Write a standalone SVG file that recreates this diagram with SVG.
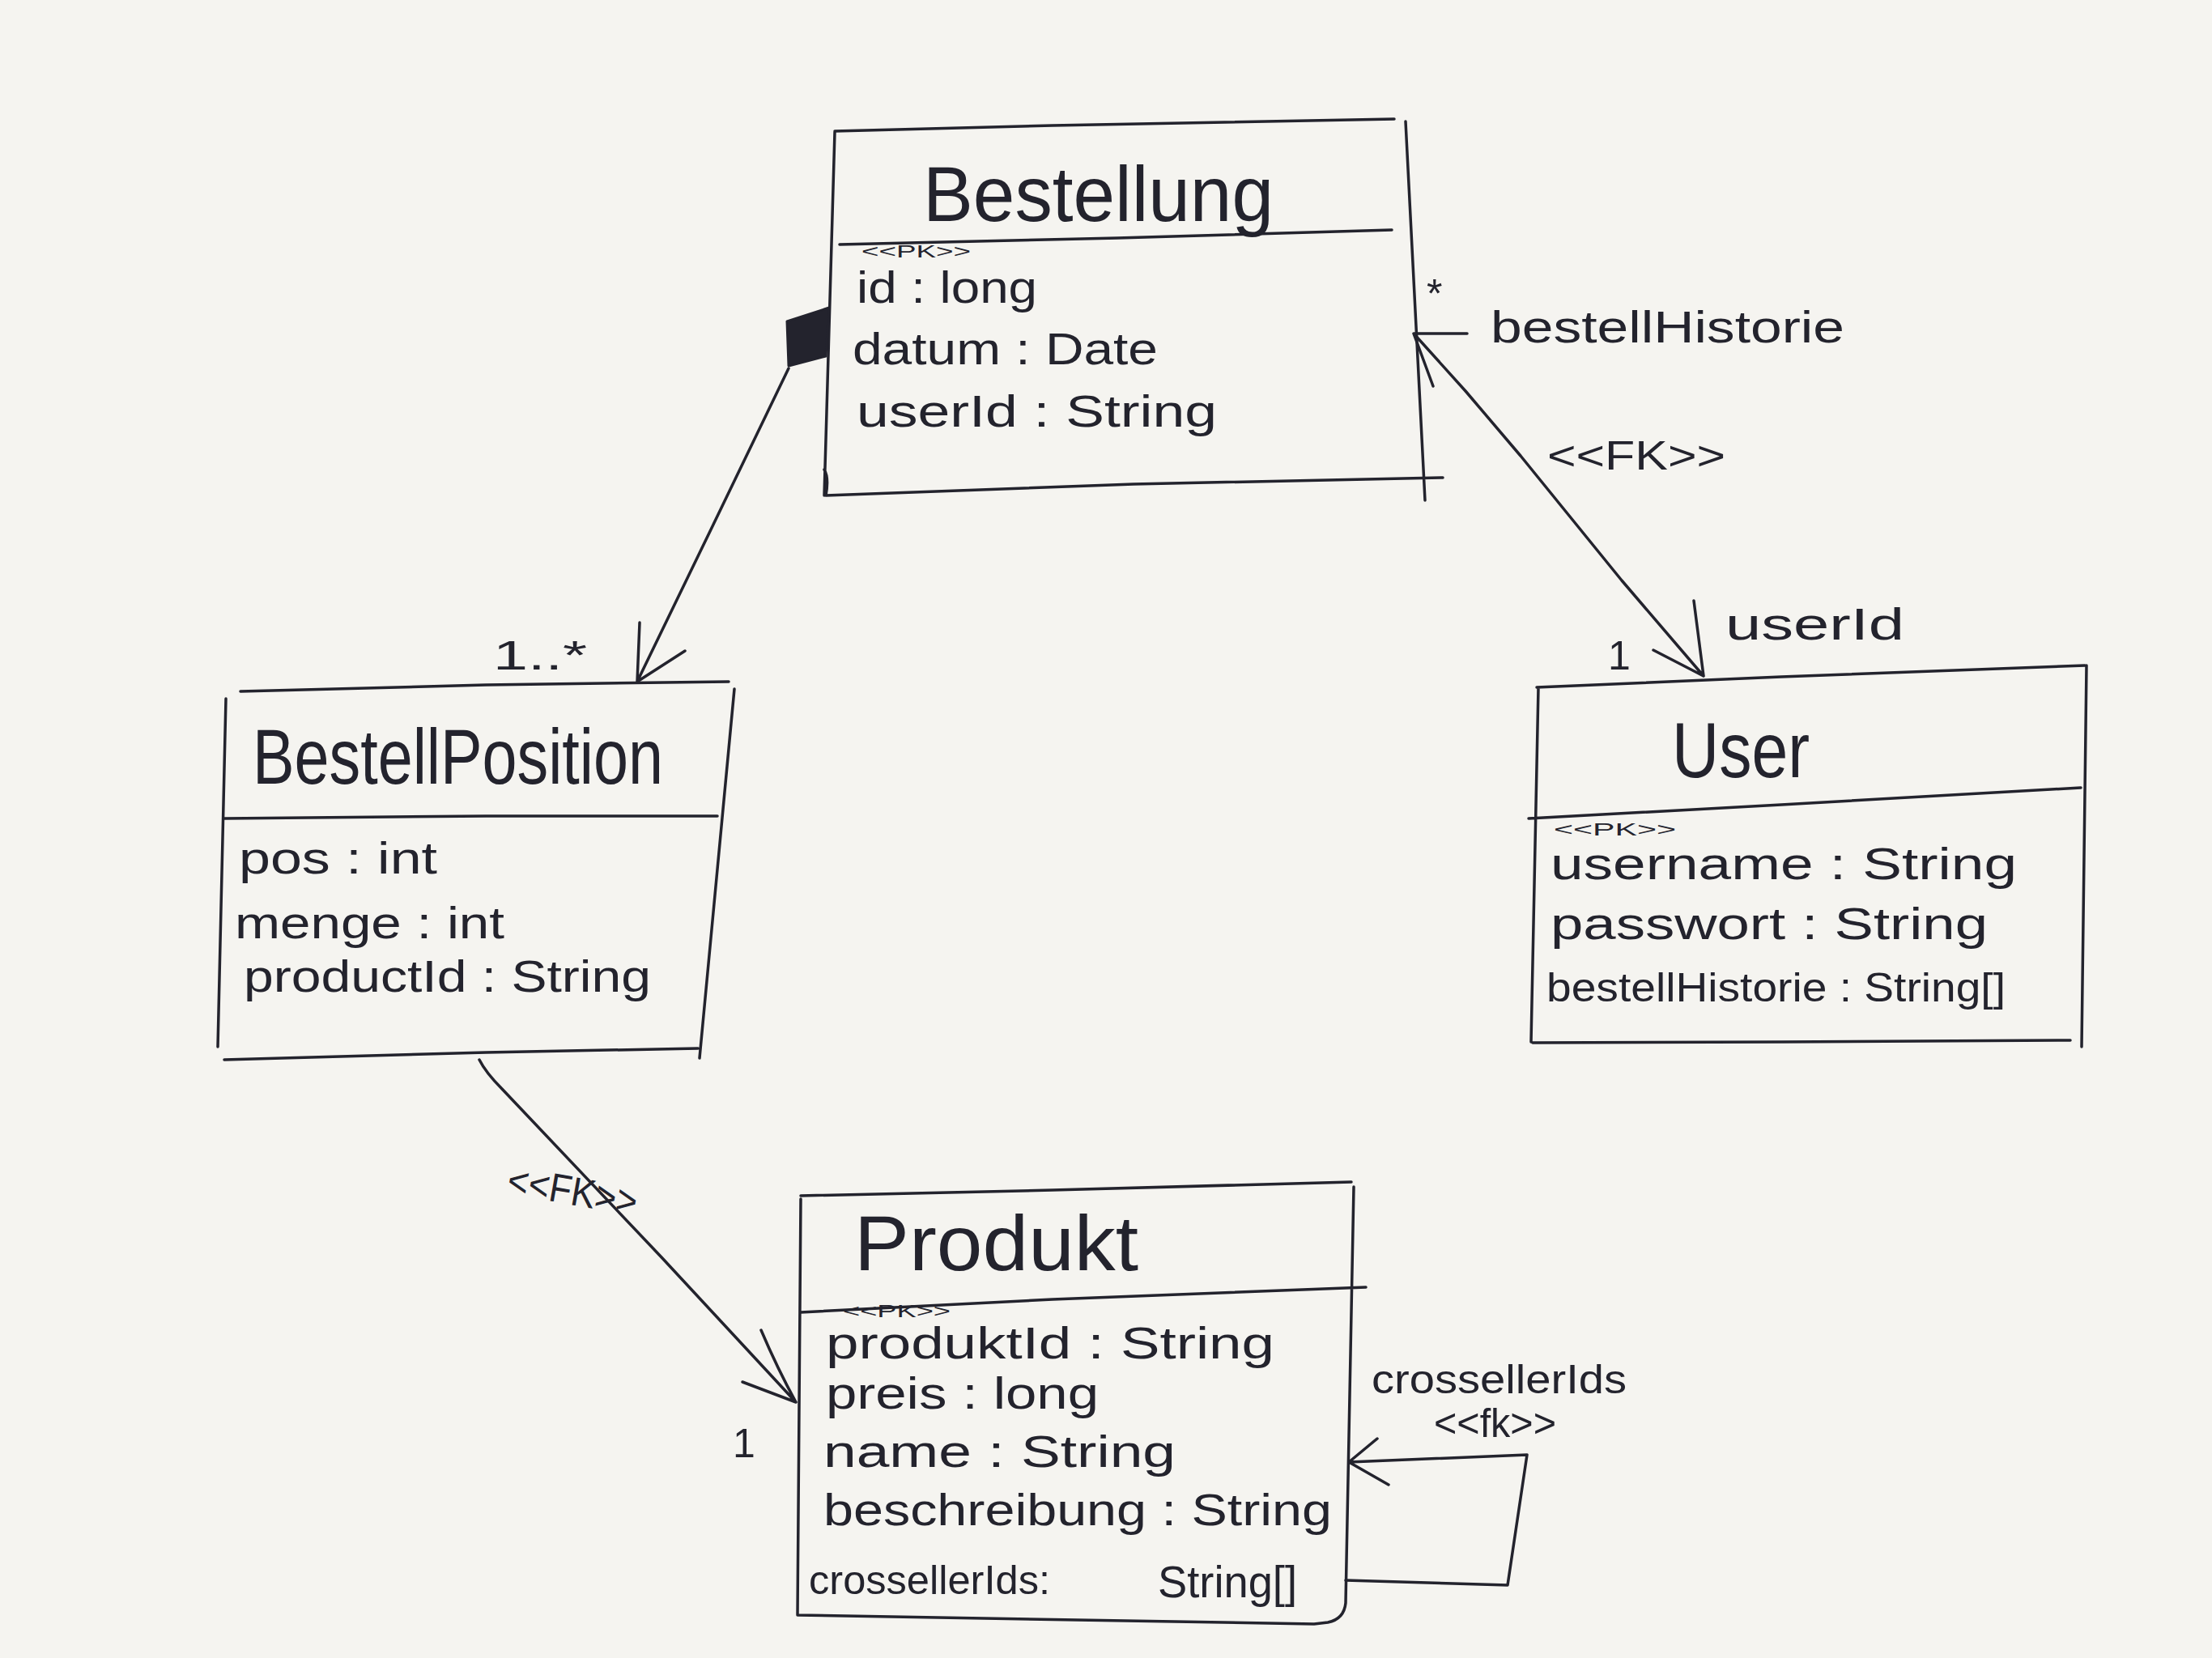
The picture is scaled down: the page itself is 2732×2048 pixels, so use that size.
<svg xmlns="http://www.w3.org/2000/svg" width="2732" height="2048" viewBox="0 0 2732 2048">
<style>
.ln{fill:none;stroke:#23232d;stroke-width:3.5;stroke-linecap:round;stroke-linejoin:round}
text{font-family:"Liberation Sans","DejaVu Sans",sans-serif;fill:#23232d}
.t{font-size:96px}
.a{font-size:56px}
.s{font-size:22px}
.l{font-size:50px}
</style>
<rect width="2732" height="2048" fill="#f5f4f0"/>
<g id="node-bestellung">
<path class="ln" d="M1031,162 L1300,155 L1722,147 M1736,150 L1760,618 M1031,163 L1018,612 M1018,580 Q1024,590 1020,612 L1400,598 L1782,590 M1037,302 L1380,294 L1719,284"/>
<text class="t" x="1140" y="273" textLength="433" lengthAdjust="spacingAndGlyphs">Bestellung</text>
<text class="s" x="1064" y="318" textLength="135" lengthAdjust="spacingAndGlyphs">&lt;&lt;PK&gt;&gt;</text>
<text class="a" x="1058" y="374" textLength="223" lengthAdjust="spacingAndGlyphs">id : long</text>
<text class="a" x="1053" y="450" textLength="377" lengthAdjust="spacingAndGlyphs">datum : Date</text>
<text class="a" x="1058" y="527" textLength="445" lengthAdjust="spacingAndGlyphs">userId : String</text>
</g>
<g id="node-bestellposition">
<path class="ln" d="M297,854 L600,846 L900,842 M907,851 L864,1307 M279,863 L269,1293 M277,1309 L600,1300 L862,1295 M277,1011 L600,1008 L886,1008"/>
<text class="t" x="312" y="968" textLength="507" lengthAdjust="spacingAndGlyphs">BestellPosition</text>
<text class="a" x="295" y="1079" textLength="245" lengthAdjust="spacingAndGlyphs">pos : int</text>
<text class="a" x="290" y="1159" textLength="333" lengthAdjust="spacingAndGlyphs">menge : int</text>
<text class="a" x="301" y="1225" textLength="503" lengthAdjust="spacingAndGlyphs">productId : String</text>
</g>
<g id="node-user">
<path class="ln" d="M1898,849 L2200,836 L2575,822 M2577,822 L2571,1293 M1900,849 L1891,1287 M1893,1288 L2200,1287 L2557,1285 M1888,1011 L2200,994 L2570,973"/>
<text class="t" x="2065" y="960" textLength="170" lengthAdjust="spacingAndGlyphs">User</text>
<text class="s" x="1919" y="1032" textLength="151" lengthAdjust="spacingAndGlyphs">&lt;&lt;PK&gt;&gt;</text>
<text class="a" x="1915" y="1086" textLength="576" lengthAdjust="spacingAndGlyphs">username : String</text>
<text class="a" x="1915" y="1160" textLength="540" lengthAdjust="spacingAndGlyphs">passwort : String</text>
<text class="l" x="1910" y="1237" textLength="567" lengthAdjust="spacingAndGlyphs">bestellHistorie : String[]</text>
</g>
<g id="node-produkt">
<path class="ln" d="M989,1477 L1300,1470 L1669,1460 M1672,1466 L1662,1980 Q1660,2000 1640,2004 L1623,2006 L985,1995 M989,1481 L985,1995 M989,1621 L1300,1605 L1687,1590"/>
<text class="t" x="1055" y="1569" textLength="351" lengthAdjust="spacingAndGlyphs">Produkt</text>
<text class="s" x="1041" y="1627" font-size="18" textLength="133" lengthAdjust="spacingAndGlyphs">&lt;&lt;PK&gt;&gt;</text>
<text class="a" x="1020" y="1678" font-size="52" textLength="554" lengthAdjust="spacingAndGlyphs">produktId : String</text>
<text class="a" x="1020" y="1740" font-size="52" textLength="337" lengthAdjust="spacingAndGlyphs">preis : long</text>
<text class="a" x="1017" y="1812" textLength="435" lengthAdjust="spacingAndGlyphs">name : String</text>
<text class="a" x="1017" y="1884" textLength="628" lengthAdjust="spacingAndGlyphs">beschreibung : String</text>
<text class="l" x="999" y="1969" textLength="298" lengthAdjust="spacingAndGlyphs">crossellerIds:</text>
<text class="a" x="1430" y="1973" textLength="172" lengthAdjust="spacingAndGlyphs">String[]</text>
</g>
<g id="connectors">
<polygon points="1024,380 972,397 974,452 1020,440" fill="#23232d" stroke="#23232d" stroke-width="3" stroke-linejoin="round"/>
<path class="ln" d="M974,455 L880,650 L787,842 M790,769 L787,842 L846,804"/>
<path class="ln" d="M1746,412 L1810,483 L1878,563 L2003,717 L2104,835 M1812,412 L1746,412 L1770,477 M2092,742 L2104,835 L2042,803"/>
<path class="ln" d="M592,1309 Q600,1325 620,1345 L817,1553 L983,1732 M940,1643 Q960,1690 983,1732 L917,1707"/>
<path class="ln" d="M1662,1952 L1862,1958 L1886,1797 L1666,1806 M1701,1777 L1666,1806 L1715,1834"/>
<text class="l" x="1762" y="380" font-size="44">*</text>
<text class="a" x="1841" y="423" textLength="437" lengthAdjust="spacingAndGlyphs">bestellHistorie</text>
<text class="l" x="1911" y="580" textLength="220" lengthAdjust="spacingAndGlyphs">&lt;&lt;FK&gt;&gt;</text>
<text class="l" x="609" y="827" textLength="116" lengthAdjust="spacingAndGlyphs">1..*</text>
<text class="l" x="1986" y="827" font-size="40">1</text>
<text class="a" x="2131" y="790" textLength="221" lengthAdjust="spacingAndGlyphs" font-size="66">userId</text>
<text class="l" x="625" y="1488" textLength="162" lengthAdjust="spacingAndGlyphs" font-size="40" transform="rotate(10 706 1478)">&lt;&lt;FK&gt;&gt;</text>
<text class="l" x="905" y="1800" font-size="40">1</text>
<text class="l" x="1694" y="1721" textLength="315" lengthAdjust="spacingAndGlyphs">crossellerIds</text>
<text class="l" x="1771" y="1775" textLength="151" lengthAdjust="spacingAndGlyphs" font-size="38">&lt;&lt;fk&gt;&gt;</text>
</g>
</svg>
